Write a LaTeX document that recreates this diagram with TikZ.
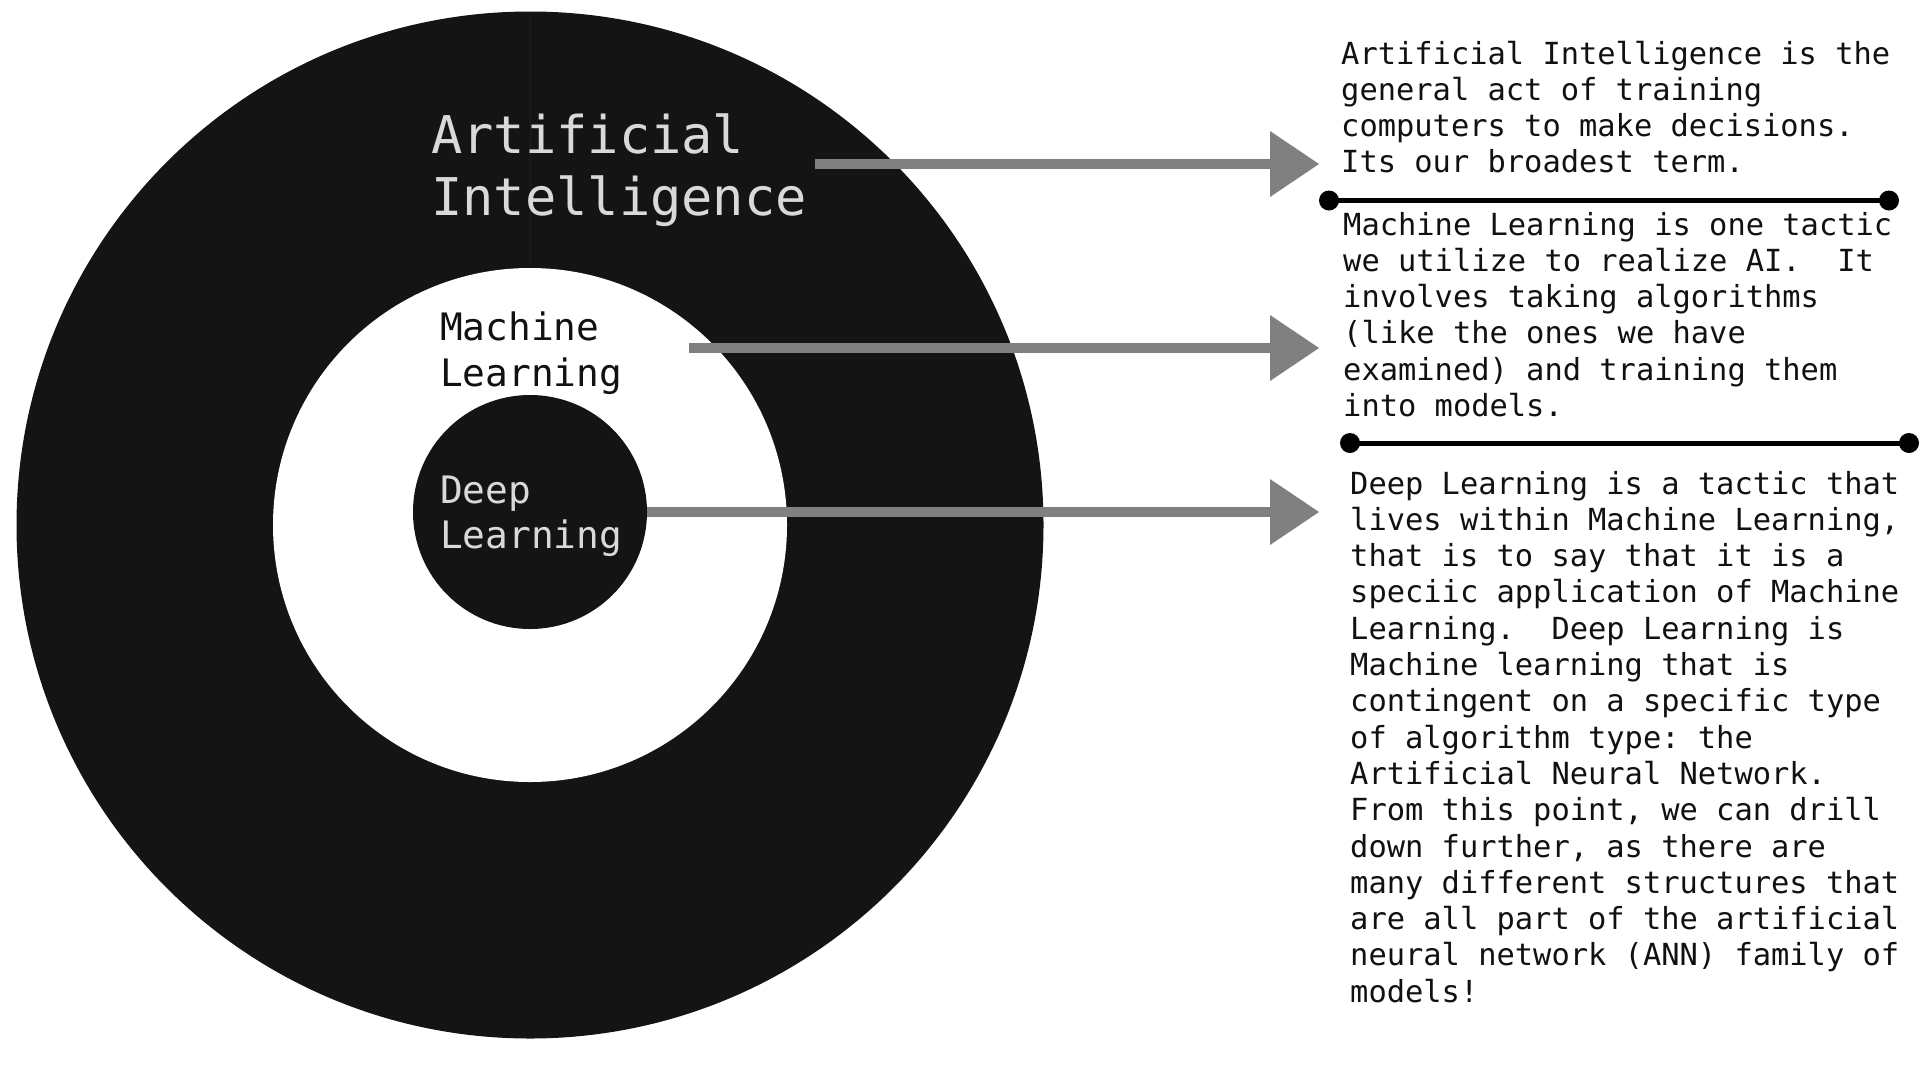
\documentclass[tikz,border=0pt]{standalone}
\usepackage{fontspec}
\setmonofont{DejaVu Sans Mono}
\usetikzlibrary{arrows.meta}
\definecolor{ink}{HTML}{141414}
\definecolor{bodytext}{HTML}{111111}
\definecolor{arrowgray}{HTML}{808080}
\definecolor{lighttext}{HTML}{D9D9D9}
\definecolor{seam}{HTML}{1D1D1D}
\newcommand{\mylines}[1]{\parbox[t]{900pt}{\raggedright #1}}
\frenchspacing
\begin{document}
\begin{tikzpicture}[x=1pt,y=-1pt,
  bigarrow/.style={draw=arrowgray, line width=10pt,
    -{Triangle[length=49pt,width=66pt,line width=0pt]}},
  sepline/.style={draw=black, line width=5pt},
  sepdot/.style={fill=black},
  ailabel/.style={anchor=base west, inner sep=0pt, text=lighttext,
    font=\ttfamily\frenchspacing\fontsize{52}{62}\selectfont},
  mllabel/.style={anchor=base west, inner sep=0pt, text=bodytext,
    font=\ttfamily\frenchspacing\fontsize{37.8}{46}\selectfont},
  dllabel/.style={anchor=base west, inner sep=0pt, text=lighttext,
    font=\ttfamily\frenchspacing\fontsize{37.8}{45}\selectfont},
  para/.style={anchor=base west, inner sep=0pt, text=bodytext,
    font=\ttfamily\frenchspacing\fontsize{30.4}{36.3}\selectfont}
]
\fill[white] (0,0) rectangle (1920,1080);
\useasboundingbox (0,0) rectangle (1920,1080);

% rings
\fill[ink] (530,525) circle[radius=513.5];
\draw[seam, line width=1pt] (530,12) -- (530,268);
\fill[white] (530,525) circle[radius=257];
\node[circle, fill=ink, minimum size=234pt, inner sep=0pt] (dl) at (530,512) {};

% ring labels
\node[ailabel] (ai) at (431,153) {\mylines{Artificial\\Intelligence}};
\node[mllabel] (ml) at (440,340) {\mylines{Machine\\Learning}};
\node[dllabel] (dlt) at (440,503) {\mylines{Deep\\Learning}};

% arrows
\coordinate (a1s) at (815,164);
\coordinate (a1e) at (1319,164);
\coordinate (a2s) at (689,348);
\coordinate (a2e) at (1319,348);
\coordinate (a3e) at (1319,512);
\draw[bigarrow] (a1s) -- (a1e);
\draw[bigarrow] (a2s) -- (a2e);
\draw[bigarrow] (dl.east) -- (a3e);

% separators
\coordinate (s1a) at (1329,200.5);
\coordinate (s1b) at (1889,200.5);
\coordinate (s2a) at (1350,443);
\coordinate (s2b) at (1909,443);
\draw[sepline] (s1a) -- (s1b);
\draw[sepline] (s2a) -- (s2b);
\fill[sepdot] (s1a) circle[radius=10];
\fill[sepdot] (s1b) circle[radius=10];
\fill[sepdot] (s2a) circle[radius=10];
\fill[sepdot] (s2b) circle[radius=10];

% paragraphs
\node[para] (t1) at (1341,64) {\mylines{Artificial Intelligence is the\\
general act of training\\
computers to make decisions.\\
Its our broadest term.}};
\node[para] (t2) at (1343,235) {\mylines{Machine Learning is one tactic\\
we utilize to realize AI.\ \ It\\
involves taking algorithms\\
(like the ones we have\\
examined) and training them\\
into models.}};
\node[para] (t3) at (1350,494) {\mylines{Deep Learning is a tactic that\\
lives within Machine Learning,\\
that is to say that it is a\\
speciic application of Machine\\
Learning.\ \ Deep Learning is\\
Machine learning that is\\
contingent on a specific type\\
of algorithm type: the\\
Artificial Neural Network.\\
From this point, we can drill\\
down further, as there are\\
many different structures that\\
are all part of the artificial\\
neural network (ANN) family of\\
models!}};
\end{tikzpicture}
\end{document}
